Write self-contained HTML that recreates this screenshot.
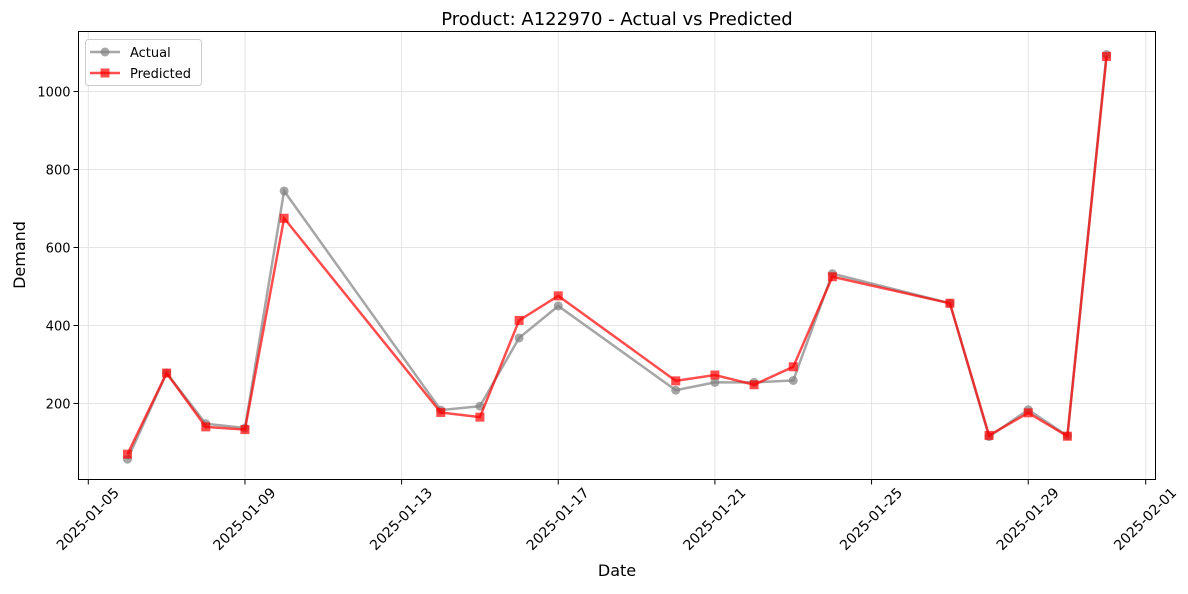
<!DOCTYPE html>
<html><head><meta charset="utf-8"><style>
body{margin:0;background:#fff;}
svg text{font-family:"DejaVu Sans","Liberation Sans",sans-serif;}
</style></head><body>
<svg id="chart" width="1188" height="589" xmlns="http://www.w3.org/2000/svg">
<text x="617" y="25" font-size="18" text-anchor="middle">Product: A122970 - Actual vs Predicted</text>
<g id="grid"></g><g id="axes"></g><g id="series"></g>
<text x="617" y="576" font-size="16" text-anchor="middle">Date</text>
<text x="25" y="255" font-size="16" text-anchor="middle" transform="rotate(-90 25 255)">Demand</text>
<g>
<rect x="85.5" y="39.5" width="116" height="46" rx="3" fill="#fff" fill-opacity="0.8" stroke="#ccc"/>
<line x1="90" y1="52" x2="120" y2="52" stroke="#808080" stroke-opacity="0.7" stroke-width="2.5"/>
<circle cx="105" cy="52" r="4.5" fill="#808080" fill-opacity="0.7"/>
<text x="130" y="57" font-size="13">Actual</text>
<line x1="90" y1="73" x2="120" y2="73" stroke="#ff0000" stroke-opacity="0.7" stroke-width="2.5"/>
<rect x="100.5" y="68.5" width="9" height="9" fill="#ff0000" fill-opacity="0.7"/>
<text x="130" y="78" font-size="13">Predicted</text>
</g>
</svg>
<script>
const dates=["2025-01-06","2025-01-07","2025-01-08","2025-01-09","2025-01-10","2025-01-14","2025-01-15","2025-01-16","2025-01-17","2025-01-20","2025-01-21","2025-01-22","2025-01-23","2025-01-24","2025-01-27","2025-01-28","2025-01-29","2025-01-30","2025-01-31"];
const actual=[57,278,148,137,745,183,193,368,450,234,254,254,259,533,457,115,184,117,1095];
const predicted=[70,278,140,133,675,177,165,413,476,258,273,248,294,525,457,118,176,116,1090];
const xTicks=["2025-01-05","2025-01-09","2025-01-13","2025-01-17","2025-01-21","2025-01-25","2025-01-29","2025-02-01"];
const yTicks=[200,400,600,800,1000];
const L=78.5,R=1155.5,T=31.5,B=479.5;
const day=s=>Date.parse(s+"T00:00:00Z")/86400000;
const d0=day("2025-01-05")-0.25,d1=day("2025-02-01")+0.25;
const x=s=>L+(day(s)-d0)/(d1-d0)*(R-L);
const yMin=5,yMax=1154;
const y=v=>B-(v-yMin)/(yMax-yMin)*(B-T);
const NS="http://www.w3.org/2000/svg";
function mk(p,tag,a){const e=document.createElementNS(NS,tag);for(const k in a)e.setAttribute(k,a[k]);p.appendChild(e);return e;}
const grid=document.getElementById('grid'),axes=document.getElementById('axes'),ser=document.getElementById('series');
xTicks.forEach(t=>{const px=x(t);
 mk(grid,'line',{x1:px,x2:px,y1:T,y2:B,stroke:'#e5e5e5','stroke-width':1});
 mk(axes,'line',{x1:px,x2:px,y1:B,y2:B+5,stroke:'#000'});
 const cy=B+40;
 const tx=mk(axes,'text',{x:px,y:cy,'font-size':14,'text-anchor':'middle','dominant-baseline':'central',transform:`rotate(-45 ${px} ${cy})`});
 tx.textContent=t;
 
 
});
yTicks.forEach(t=>{const py=y(t);
 mk(grid,'line',{x1:L,x2:R,y1:py,y2:py,stroke:'#e5e5e5','stroke-width':1});
 mk(axes,'line',{x1:L-5,x2:L,y1:py,y2:py,stroke:'#000'});
 const tx=mk(axes,'text',{x:L-8,y:py+5,'font-size':13,'text-anchor':'end'});
 tx.textContent=t;
 
 
});
mk(axes,'rect',{x:L,y:T,width:R-L,height:B-T,fill:'none',stroke:'#000','stroke-width':1});
function line(vals,color,name,sq){
 const g=mk(ser,'g',{});
 
 
 mk(g,'polyline',{points:vals.map((v,i)=>x(dates[i])+','+y(v)).join(' '),fill:'none',stroke:color,'stroke-opacity':0.7,'stroke-width':2.5});
 vals.forEach((v,i)=>{let m;
  if(sq)m=mk(g,'rect',{x:x(dates[i])-4.5,y:y(v)-4.5,width:9,height:9,fill:color,'fill-opacity':0.7});
  else m=mk(g,'circle',{cx:x(dates[i]),cy:y(v),r:4.5,fill:color,'fill-opacity':0.7});
  
  
 });
}
line(actual,'#808080','actual-series',false);
line(predicted,'#ff0000','predicted-series',true);
</script>
</body></html>
